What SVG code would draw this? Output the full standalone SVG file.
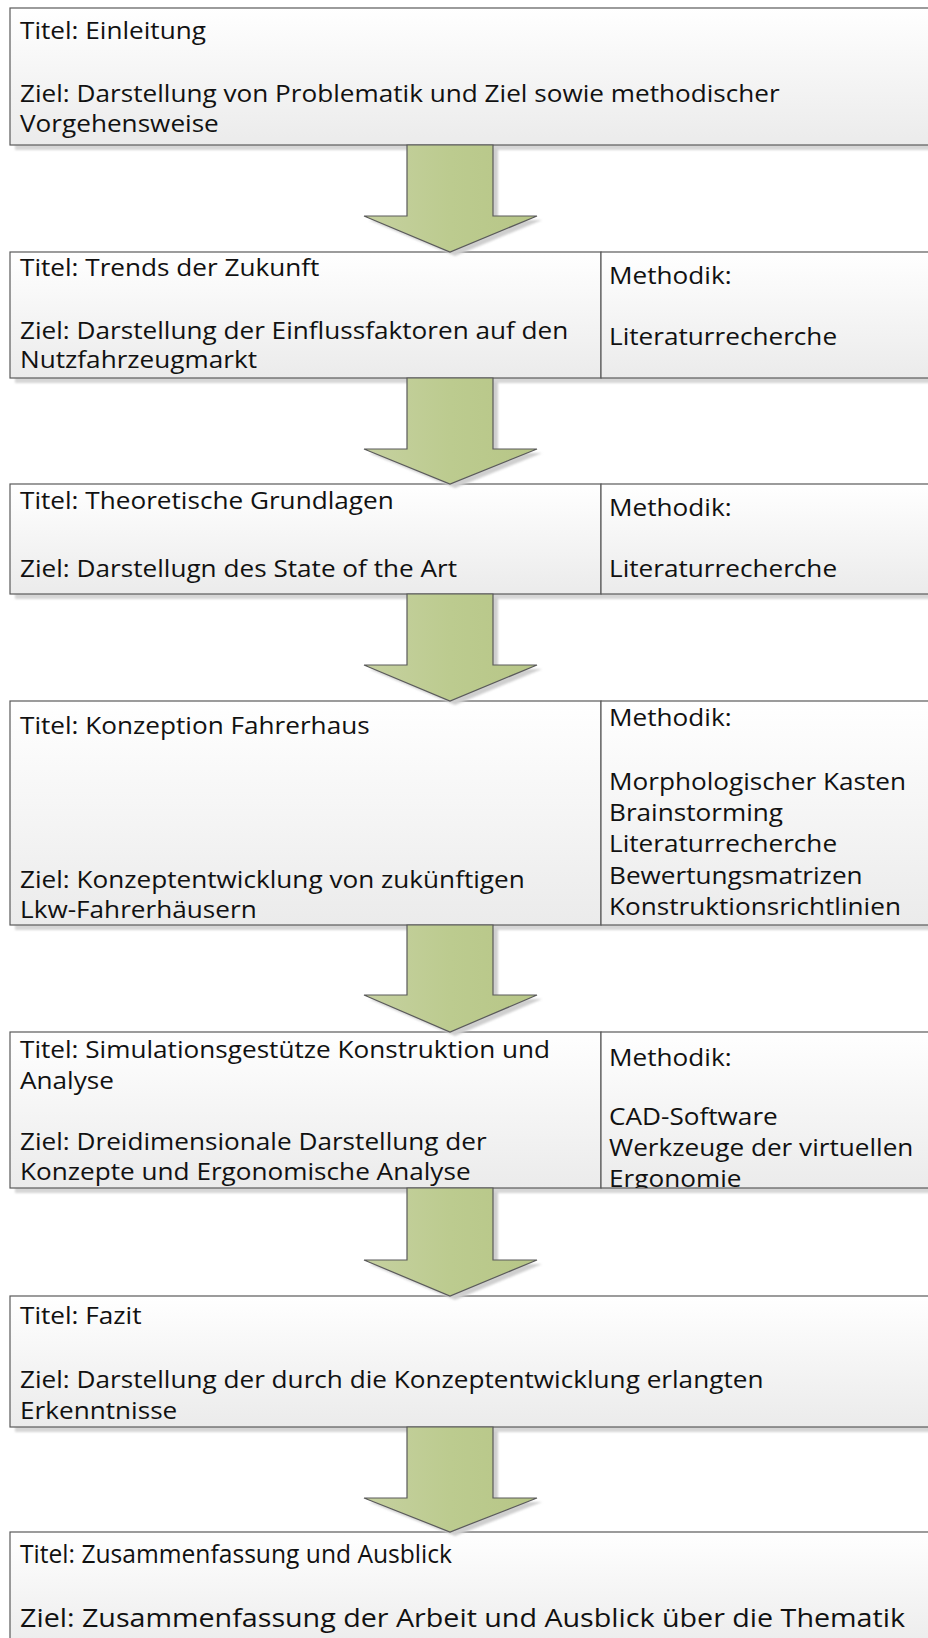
<svg xmlns="http://www.w3.org/2000/svg" width="928" height="1638" viewBox="0 0 928 1638">
  <defs>
    <linearGradient id="boxFill" x1="0" y1="0" x2="0" y2="1">
      <stop offset="0" stop-color="#ffffff"/>
      <stop offset="1" stop-color="#ebebeb"/>
    </linearGradient>
    <linearGradient id="arrowFill" x1="0" y1="0" x2="1" y2="0">
      <stop offset="0" stop-color="#c6d1a0"/>
      <stop offset="0.5" stop-color="#bccb8f"/>
      <stop offset="1" stop-color="#b7c687"/>
    </linearGradient>
    <filter id="soft" x="-5%" y="-20%" width="110%" height="140%">
      <feGaussianBlur stdDeviation="1.3"/>
    </filter>
    <clipPath id="clipB5r">
      <rect x="601" y="1032" width="340" height="156"/>
    </clipPath>
  </defs>
  <style>
    .shadow { fill: #d6d6d6; filter: url(#soft); }
    .cell { fill: url(#boxFill); stroke: #5a5a5a; stroke-width: 1.2; }
    .arrow { fill: url(#arrowFill); stroke: #5a5a5a; stroke-width: 1.2; stroke-linejoin: miter; }
    .ashadow { fill: #cfcfcf; filter: url(#soft); }
    .t { font-family: "Open Sans", "Liberation Sans", sans-serif; font-size: 24px; fill: #111111; }
    .c { font-family: "Open Sans", "Liberation Sans", sans-serif; font-size: 25px; fill: #111111; }
  </style>

  <rect x="0" y="0" width="928" height="1638" fill="#ffffff"/>

  <!-- shadows of the boxes -->
  <g id="box-shadows">
    <rect class="shadow" x="15" y="13" width="930" height="137"/>
    <rect class="shadow" x="15" y="257" width="930" height="126"/>
    <rect class="shadow" x="15" y="489" width="930" height="110"/>
    <rect class="shadow" x="15" y="706" width="930" height="224"/>
    <rect class="shadow" x="15" y="1037" width="930" height="156"/>
    <rect class="shadow" x="15" y="1301" width="930" height="131"/>
    <rect class="shadow" x="15" y="1537" width="930" height="120"/>
  </g>

  <g id="einleitung">
    <rect class="cell" x="10" y="8" width="930" height="137"/>
    <text class="t" transform="matrix(1.09 0 0 1 20 39)">Titel: Einleitung</text>
    <text class="t" transform="matrix(1.09 0 0 1 20 102)">Ziel: Darstellung von Problematik und Ziel sowie methodischer</text>
    <text class="t" transform="matrix(1.09 0 0 1 20 132)">Vorgehensweise</text>
  </g>

  <g id="trends">
    <rect class="cell" x="10" y="252" width="591" height="126"/>
    <rect class="cell" x="601" y="252" width="340" height="126"/>
    <text class="t" transform="matrix(1.09 0 0 1 20 276)">Titel: Trends der Zukunft</text>
    <text class="t" transform="matrix(1.09 0 0 1 20 339)">Ziel: Darstellung der Einflussfaktoren auf den</text>
    <text class="t" transform="matrix(1.09 0 0 1 20 368)">Nutzfahrzeugmarkt</text>
    <text class="t" transform="matrix(1.09 0 0 1 609 284)">Methodik:</text>
    <text class="t" transform="matrix(1.09 0 0 1 609 345)">Literaturrecherche</text>
  </g>

  <g id="grundlagen">
    <rect class="cell" x="10" y="484" width="591" height="110"/>
    <rect class="cell" x="601" y="484" width="340" height="110"/>
    <text class="t" transform="matrix(1.09 0 0 1 20 509)">Titel: Theoretische Grundlagen</text>
    <text class="t" transform="matrix(1.09 0 0 1 20 577)">Ziel: Darstellugn des State of the Art</text>
    <text class="t" transform="matrix(1.09 0 0 1 609 516)">Methodik:</text>
    <text class="t" transform="matrix(1.09 0 0 1 609 577)">Literaturrecherche</text>
  </g>

  <g id="konzeption">
    <rect class="cell" x="10" y="701" width="591" height="224"/>
    <rect class="cell" x="601" y="701" width="340" height="224"/>
    <text class="t" transform="matrix(1.09 0 0 1 20 734)">Titel: Konzeption Fahrerhaus</text>
    <text class="t" transform="matrix(1.09 0 0 1 20 888)">Ziel: Konzeptentwicklung von zukünftigen</text>
    <text class="t" transform="matrix(1.09 0 0 1 20 918)">Lkw-Fahrerhäusern</text>
    <text class="t" transform="matrix(1.09 0 0 1 609 726)">Methodik:</text>
    <text class="t" transform="matrix(1.09 0 0 1 609 790)">Morphologischer Kasten</text>
    <text class="t" transform="matrix(1.09 0 0 1 609 821)">Brainstorming</text>
    <text class="t" transform="matrix(1.09 0 0 1 609 852)">Literaturrecherche</text>
    <text class="t" transform="matrix(1.09 0 0 1 609 884)">Bewertungsmatrizen</text>
    <text class="t" transform="matrix(1.09 0 0 1 609 915)">Konstruktionsrichtlinien</text>
  </g>

  <g id="simulation">
    <rect class="cell" x="10" y="1032" width="591" height="156"/>
    <rect class="cell" x="601" y="1032" width="340" height="156"/>
    <text class="t" transform="matrix(1.09 0 0 1 20 1058)">Titel: Simulationsgestütze Konstruktion und</text>
    <text class="t" transform="matrix(1.09 0 0 1 20 1089)">Analyse</text>
    <text class="t" transform="matrix(1.09 0 0 1 20 1150)">Ziel: Dreidimensionale Darstellung der</text>
    <text class="t" transform="matrix(1.09 0 0 1 20 1180)">Konzepte und Ergonomische Analyse</text>
    <g clip-path="url(#clipB5r)">
      <text class="t" transform="matrix(1.09 0 0 1 609 1066)">Methodik:</text>
      <text class="t" transform="matrix(1.09 0 0 1 609 1125)">CAD-Software</text>
      <text class="t" transform="matrix(1.09 0 0 1 609 1156)">Werkzeuge der virtuellen</text>
      <text class="t" transform="matrix(1.09 0 0 1 609 1187)">Ergonomie</text>
    </g>
  </g>

  <g id="fazit">
    <rect class="cell" x="10" y="1296" width="930" height="131"/>
    <text class="t" transform="matrix(1.09 0 0 1 20 1324)">Titel: Fazit</text>
    <text class="t" transform="matrix(1.09 0 0 1 20 1388)">Ziel: Darstellung der durch die Konzeptentwicklung erlangten</text>
    <text class="t" transform="matrix(1.09 0 0 1 20 1419)">Erkenntnisse</text>
  </g>

  <g id="zusammenfassung">
    <rect class="cell" x="10" y="1532" width="930" height="120"/>
    <text class="c" x="20" y="1563" textLength="432" lengthAdjust="spacingAndGlyphs">Titel: Zusammenfassung und Ausblick</text>
    <text class="c" x="20" y="1627" textLength="885" lengthAdjust="spacingAndGlyphs">Ziel: Zusammenfassung der Arbeit und Ausblick über die Thematik</text>
  </g>

  <!-- block arrows between the stages -->
  <g id="connectors">
    <polygon class="ashadow" points="412,148 498,148 498,220 542,220 455,256 369,220 412,220"/>
    <polygon class="arrow" points="407,145 493,145 493,216 537,216 450,252 364,216 407,216"/>

    <polygon class="ashadow" points="412,381 498,381 498,453 542,453 455,488 369,453 412,453"/>
    <polygon class="arrow" points="407,378 493,378 493,449 537,449 450,484 364,449 407,449"/>

    <polygon class="ashadow" points="412,597 498,597 498,669 542,669 455,705 369,669 412,669"/>
    <polygon class="arrow" points="407,594 493,594 493,665 537,665 450,701 364,665 407,665"/>

    <polygon class="ashadow" points="412,928 498,928 498,999 542,999 455,1036 369,999 412,999"/>
    <polygon class="arrow" points="407,925 493,925 493,995 537,995 450,1032 364,995 407,995"/>

    <polygon class="ashadow" points="412,1191 498,1191 498,1264 542,1264 455,1300 369,1264 412,1264"/>
    <polygon class="arrow" points="407,1188 493,1188 493,1260 537,1260 450,1296 364,1260 407,1260"/>

    <polygon class="ashadow" points="412,1430 498,1430 498,1502 542,1502 455,1536 369,1502 412,1502"/>
    <polygon class="arrow" points="407,1427 493,1427 493,1498 537,1498 450,1532 364,1498 407,1498"/>
  </g>
</svg>
